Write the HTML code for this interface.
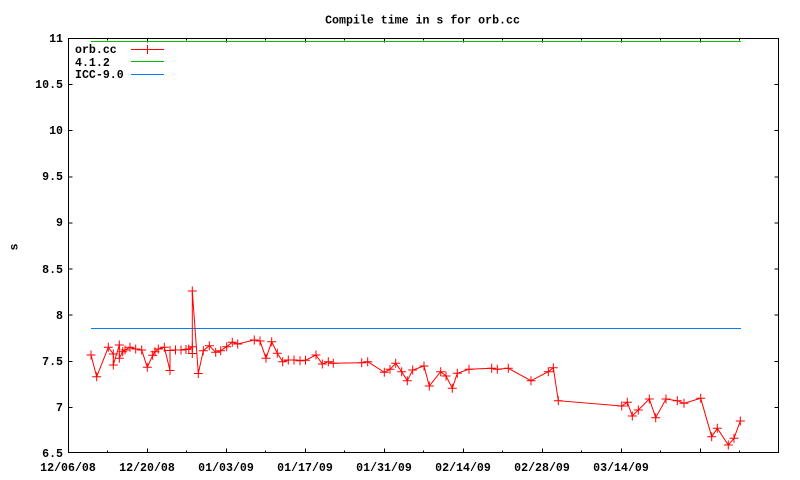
<!DOCTYPE html>
<html><head><meta charset="utf-8"><style>
html,body{margin:0;padding:0;background:#fff;}
svg{display:block;}
text{font-family:"Liberation Mono",monospace;font-weight:bold;font-size:11.6px;fill:#000;}
</style></head><body>
<svg width="800" height="480" viewBox="0 0 800 480" xmlns="http://www.w3.org/2000/svg">
<defs>
<marker id="p" markerWidth="9" markerHeight="9" refX="4.5" refY="4.5" markerUnits="userSpaceOnUse" overflow="visible">
<path d="M0 4.5H9M4.5 0V9" stroke="#ff0000" stroke-width="1" fill="none"/>
</marker>
</defs>
<rect x="0" y="0" width="800" height="480" fill="#fff"/>
<text x="422.5" y="23.5" text-anchor="middle">Compile time in s for orb.cc</text>
<text x="0" y="0" text-anchor="middle" transform="translate(17.5,247) rotate(-90)">s</text>
<g shape-rendering="crispEdges" stroke="#000" stroke-width="1" fill="none">
<rect x="68.5" y="38.5" width="710" height="414"/>
<path d="M68.5 84.6h4M68.5 130.7h4M68.5 176.8h4M68.5 222.9h4M68.5 269.1h4M68.5 315.2h4M68.5 361.3h4M68.5 407.4h4M778.5 84.6h-4M778.5 130.7h-4M778.5 176.8h-4M778.5 222.9h-4M778.5 269.1h-4M778.5 315.2h-4M778.5 361.3h-4M778.5 407.4h-4"/>
<path d="M147.5 452.5v-4M226.5 452.5v-4M305.5 452.5v-4M384.5 452.5v-4M463.5 452.5v-4M542.5 452.5v-4M621.5 452.5v-4M700.5 452.5v-4M107.5 452.5v-2M186.5 452.5v-2M265.5 452.5v-2M344.5 452.5v-2M423.5 452.5v-2M502.5 452.5v-2M581.5 452.5v-2M660.5 452.5v-2M739.5 452.5v-2"/>
<path d="M147.5 38.5v4M226.5 38.5v4M305.5 38.5v4M384.5 38.5v4M463.5 38.5v4M542.5 38.5v4M621.5 38.5v4M700.5 38.5v4M107.5 38.5v2M186.5 38.5v2M265.5 38.5v2M344.5 38.5v2M423.5 38.5v2M502.5 38.5v2M581.5 38.5v2M660.5 38.5v2M739.5 38.5v2"/>
</g>
<g text-anchor="end">
<text x="63" y="42">11</text>
<text x="63" y="88">10.5</text>
<text x="63" y="134">10</text>
<text x="63" y="180">9.5</text>
<text x="63" y="226">9</text>
<text x="63" y="273">8.5</text>
<text x="63" y="319">8</text>
<text x="63" y="365">7.5</text>
<text x="63" y="411">7</text>
<text x="63" y="457">6.5</text>
</g>
<g text-anchor="middle">
<text x="68" y="471">12/06/08</text>
<text x="147" y="471">12/20/08</text>
<text x="226" y="471">01/03/09</text>
<text x="305" y="471">01/17/09</text>
<text x="384" y="471">01/31/09</text>
<text x="463" y="471">02/14/09</text>
<text x="542" y="471">02/28/09</text>
<text x="621" y="471">03/14/09</text>
</g>
<text x="75" y="53">orb.cc</text>
<text x="75" y="66">4.1.2</text>
<text x="75" y="78">ICC-9.0</text>
<rect x="131" y="49" width="33" height="1" fill="#ff0000"/>
<rect x="147" y="45" width="1" height="9" fill="#ff0000"/>
<rect x="131" y="61" width="33" height="1" fill="#00c000"/>
<rect x="131" y="74" width="33" height="1" fill="#0080ff"/>
<rect x="91" y="41" width="650" height="1" fill="#00c000"/>
<rect x="91" y="328" width="650" height="1" fill="#0080ff"/>
<polyline fill="none" stroke="#ff0000" stroke-width="1" marker-start="url(#p)" marker-mid="url(#p)" marker-end="url(#p)" points="91,355 96.7,376.7 108.3,347.3 113.3,354 113.3,365 119.3,345 119.3,358.3 122.7,351.7 125,350 130,347.3 135.7,349 141.7,350 147.3,367.3 152.7,355.3 155,351.7 158.3,349 164.3,347.3 170,370.5 170,350.5 175.5,350 181,350 186,349.5 188.8,349 192.3,346.7 192.3,353.5 192.3,291 198.3,373.5 203.3,350.7 209.3,345.7 215.7,352.3 220.7,350.7 226.7,346.7 232.3,342.3 237.7,344 254.3,340 260,341 266,358.3 271.7,341.7 277.3,353.3 282.7,361.7 288.3,360 294,360 300,360.7 305.5,360.3 316,355 322.3,364 328.3,361.7 333.3,363.3 361.7,362.7 367.7,361.7 384.3,372.3 390,369.3 395.7,363.3 401.7,371.7 407.3,380.7 412.7,370 424,366 429.3,386 440.7,371.7 446,376 452.3,388.3 457.3,373.3 469,369.3 491.7,368.3 497.3,369.3 508.3,368.3 531,380.7 548.3,371.7 553.3,367.7 558.3,400.7 621.7,406 627.3,402.3 632.3,416 638.3,410 649.3,399 655.7,417.7 666,399 677.3,400.7 684,403.3 700.7,398.3 711.7,436.7 717.3,428.3 728.3,445 734,438.3 740.3,421"/>
</svg>
</body></html>
